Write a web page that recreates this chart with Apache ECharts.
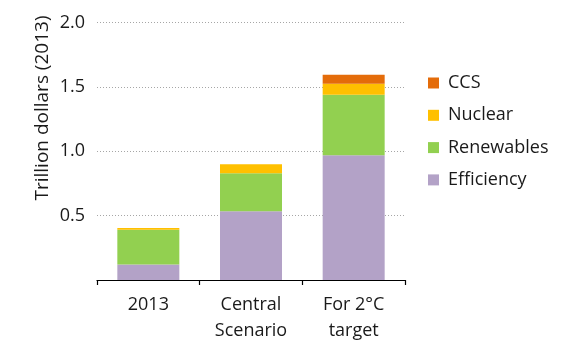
<!DOCTYPE html>
<html>
<head>
<meta charset="utf-8">
<script src="https://cdn.jsdelivr.net/npm/echarts@6/dist/echarts.min.js"></script>
<style>html,body{margin:0;padding:0;background:#fff}#c{width:570px;height:356px}</style>
</head>
<body>
<div id="c"></div>
<script>
var categories = ['2013', 'Central\nScenario', 'For 2°C\ntarget'];
var efficiency = [0.12, 0.535, 0.97];
var renewables = [0.27, 0.295, 0.47];
var nuclear = [0.015, 0.07, 0.085];
var ccs = [0, 0, 0.07];
var yTicks = [0, 0.5, 1.0, 1.5, 2.0];
var yAxisTitle = 'Trillion dollars (2013)';

var FONT = '"Open Sans", sans-serif';
var TXT = '#1a1a1a';
var FS = 18;
var chart = echarts.init(document.getElementById('c'), null, {renderer: 'canvas'});
function bar(name, data, color) {
  return {name: name, type: 'bar', stack: 'a', data: data, barWidth: 62,
    itemStyle: {color: color}, emphasis: {disabled: true}};
}
chart.setOption({
  animation: false,
  grid: {left: 97, right: 165, top: 22.7, bottom: 76},
  legend: {
    orient: 'vertical', left: 423, top: 69,
    itemWidth: 11, itemHeight: 11, itemGap: 14.3,
    icon: 'rect',
    data: ['CCS', 'Nuclear', 'Renewables', 'Efficiency'],
    textStyle: {fontFamily: FONT, fontSize: FS, color: TXT, lineHeight: 18, padding: [0, 0, 0, 4]}
  },
  xAxis: {
    type: 'category', data: categories,
    axisLine: {lineStyle: {color: '#000', width: 1.2}},
    axisTick: {show: true, length: 5, lineStyle: {color: '#000', width: 1.2}},
    axisLabel: {fontFamily: FONT, fontSize: FS, color: TXT, lineHeight: 26, margin: 12}
  },
  yAxis: {
    type: 'value', min: yTicks[0], max: yTicks[yTicks.length - 1], interval: 0.5,
    axisLine: {show: false}, axisTick: {show: false},
    axisLabel: {fontFamily: FONT, fontSize: FS, color: TXT, margin: 12,
      formatter: function (v) { return v === 0 ? '' : v.toFixed(1); }},
    splitLine: {lineStyle: {color: '#a6a6a6', type: [1, 2], width: 1}}
  },
  graphic: [{
    type: 'text', x: 43, y: 108, rotation: Math.PI / 2,
    style: {text: yAxisTitle, font: '19px "Open Sans", sans-serif', fill: TXT,
      textAlign: 'center', textVerticalAlign: 'middle'}
  }],
  series: [
    bar('Efficiency', efficiency, '#b3a2c7'),
    bar('Renewables', renewables, '#92d050'),
    bar('Nuclear', nuclear, '#ffc000'),
    bar('CCS', ccs, '#e46c0a')
  ]
});
</script>
</body>
</html>
